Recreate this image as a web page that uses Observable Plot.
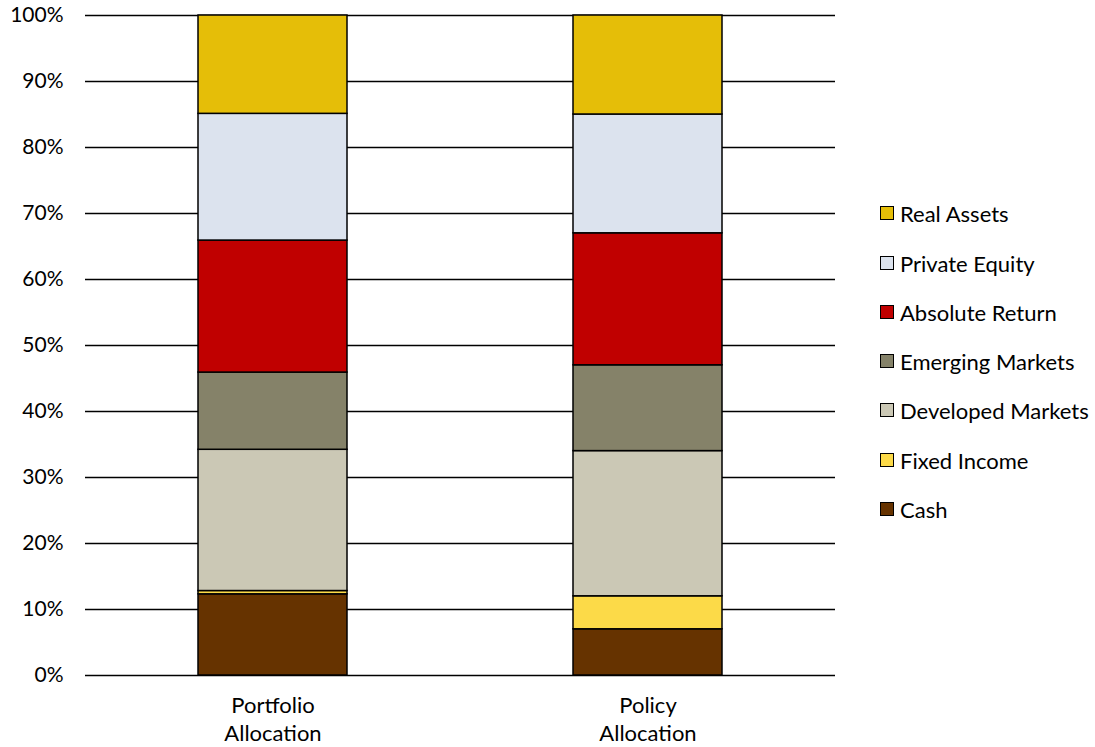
<!DOCTYPE html>
<html>
<head>
<meta charset="utf-8">
<script src="https://cdn.jsdelivr.net/npm/d3@7"></script>
<script src="https://cdn.jsdelivr.net/npm/@observablehq/plot@0.6"></script>
<style>
  html, body { margin: 0; padding: 0; background: #fff; }
  #wrap { position: relative; width: 1095px; height: 747px; font-family: Lato, sans-serif; }
  #legend { position: absolute; left: 880px; top: 0; }
  .item { position: absolute; left: 0; display: flex; align-items: center; white-space: nowrap; font-size: 22px; color: #000; }
  .sw { width: 12px; height: 12px; border: 1.5px solid #000; margin-right: 6px; }
</style>
</head>
<body>
<div id="wrap"><div id="legend"></div></div>
<script>
const categories = ["Portfolio\nAllocation", "Policy\nAllocation"];
const assetClasses = ["Cash", "Fixed Income", "Developed Markets", "Emerging Markets", "Absolute Return", "Private Equity", "Real Assets"];
const portfolioValues = [12.3, 0.5, 21.4, 11.7, 20.0, 19.2, 14.9];
const policyValues = [7, 5, 22, 13, 20, 18, 15];
const colors = ["#663300", "#FCDA48", "#CBC8B5", "#858269", "#C00000", "#DCE3EE", "#E5BE08"];
const yTicks = [0, 10, 20, 30, 40, 50, 60, 70, 80, 90, 100];

const rows = [];
assetClasses.forEach((a, i) => {
  rows.push({cat: categories[0], asset: a, value: portfolioValues[i]});
  rows.push({cat: categories[1], asset: a, value: policyValues[i]});
});

const chart = Plot.plot({
  width: 1095,
  height: 747,
  marginLeft: 85,
  marginRight: 260,
  marginTop: 15,
  marginBottom: 72,
  style: {fontFamily: "Lato, sans-serif", fontSize: "21px", color: "#000", background: "#fff"},
  x: {domain: categories, paddingInner: 0.6027, paddingOuter: 0.301, align: 0.5, label: null},
  y: {domain: [0, 100], label: null},
  color: {domain: assetClasses, range: colors},
  marks: [
    Plot.ruleY(yTicks, {stroke: "#000", strokeWidth: 1.5}),
    Plot.barY(rows, Plot.stackY({order: null}, {x: "cat", y: "value", fill: "asset", stroke: "#000", strokeWidth: 1.5})),
    Plot.axisY(yTicks, {tickSize: 0, tickPadding: 22, tickFormat: d => d + "%", fontSize: 21, fill: "#000"}),
    Plot.axisX({tickSize: 0, tickPadding: 17, lineHeight: 1.3, fontSize: 22, fill: "#000"})
  ]
});
document.getElementById("wrap").prepend(chart);

const legend = document.getElementById("legend");
const centers = [213, 263, 312, 361, 410, 460, 509];
assetClasses.slice().reverse().forEach((a, i) => {
  const idx = assetClasses.indexOf(a);
  const el = document.createElement("div");
  el.className = "item";
  el.style.top = (centers[i] - 14) + "px";
  el.style.height = "28px";
  const sw = document.createElement("div");
  sw.className = "sw";
  sw.style.background = colors[idx];
  const t = document.createElement("span");
  t.textContent = a;
  el.appendChild(sw);
  el.appendChild(t);
  legend.appendChild(el);
});
</script>
</body>
</html>
